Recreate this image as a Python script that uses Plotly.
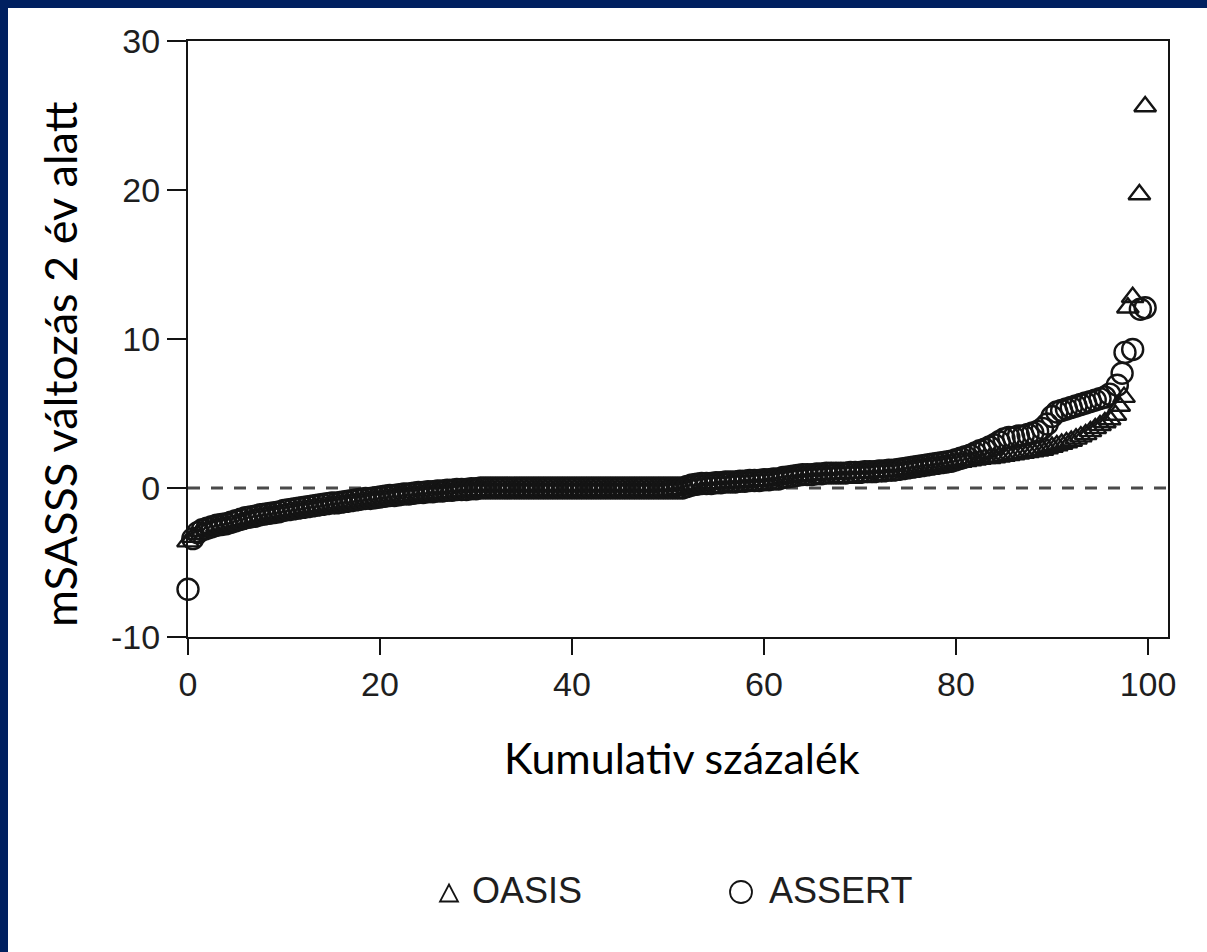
import plotly.graph_objects as go

# ---------------- data ----------------
pct_grid = [
    0.0, 0.5, 1.0, 1.5, 2.0, 2.5, 3.0, 3.5, 4.0, 4.5,
    5.0, 5.5, 6.0, 6.5, 7.0, 7.5, 8.0, 8.5, 9.0, 9.5,
    10.0, 10.5, 11.0, 11.5, 12.0, 12.5, 13.0, 13.5, 14.0, 14.5,
    15.0, 15.5, 16.0, 16.5, 17.0, 17.5, 18.0, 18.5, 19.0, 19.5,
    20.0, 20.5, 21.0, 21.5, 22.0, 22.5, 23.0, 23.5, 24.0, 24.5,
    25.0, 25.5, 26.0, 26.5, 27.0, 27.5, 28.0, 28.5, 29.0, 29.5,
    30.0, 30.5, 31.0, 31.5, 32.0, 32.5, 33.0, 33.5, 34.0, 34.5,
    35.0, 35.5, 36.0, 36.5, 37.0, 37.5, 38.0, 38.5, 39.0, 39.5,
    40.0, 40.5, 41.0, 41.5, 42.0, 42.5, 43.0, 43.5, 44.0, 44.5,
    45.0, 45.5, 46.0, 46.5, 47.0, 47.5, 48.0, 48.5, 49.0, 49.5,
    50.0, 50.5, 51.0, 51.5, 52.0, 52.5, 53.0, 53.5, 54.0, 54.5,
    55.0, 55.5, 56.0, 56.5, 57.0, 57.5, 58.0, 58.5, 59.0, 59.5,
    60.0, 60.5, 61.0, 61.5, 62.0, 62.5, 63.0, 63.5, 64.0, 64.5,
    65.0, 65.5, 66.0, 66.5, 67.0, 67.5, 68.0, 68.5, 69.0, 69.5,
    70.0, 70.5, 71.0, 71.5, 72.0, 72.5, 73.0, 73.5, 74.0, 74.5,
    75.0, 75.5, 76.0, 76.5, 77.0, 77.5, 78.0, 78.5, 79.0, 79.5,
    80.0, 80.5, 81.0, 81.5, 82.0, 82.5, 83.0, 83.5, 84.0, 84.5,
    85.0, 85.5, 86.0, 86.5, 87.0, 87.5, 88.0, 88.5, 89.0, 89.5,
    90.0, 90.5, 91.0, 91.5, 92.0, 92.5, 93.0, 93.5, 94.0, 94.5,
    95.0, 95.5, 96.0,
]

assert_main = [
    -6.8, -3.4, -3.0, -2.8, -2.7, -2.6, -2.5, -2.45, -2.4, -2.3,
    -2.2, -2.1, -2.0, -1.95, -1.9, -1.8, -1.75, -1.7, -1.65, -1.6,
    -1.5, -1.45, -1.4, -1.35, -1.3, -1.25, -1.2, -1.15, -1.1, -1.05,
    -1.0, -1.0, -0.95, -0.9, -0.85, -0.8, -0.75, -0.7, -0.7, -0.65,
    -0.6, -0.55, -0.5, -0.5, -0.45, -0.4, -0.4, -0.35, -0.3, -0.3,
    -0.25, -0.25, -0.2, -0.2, -0.15, -0.15, -0.1, -0.1, -0.1, -0.05,
    -0.05, 0.0, 0.0, 0.0, 0.0, 0.0, 0.0, 0.0, 0.0, 0.0,
    0.0, 0.0, 0.0, 0.0, 0.0, 0.0, 0.0, 0.0, 0.0, 0.0,
    0.0, 0.0, 0.0, 0.0, 0.0, 0.0, 0.0, 0.0, 0.0, 0.0,
    0.0, 0.0, 0.0, 0.0, 0.0, 0.0, 0.0, 0.0, 0.0, 0.0,
    0.0, 0.0, 0.0, 0.0, 0.1, 0.2, 0.25, 0.3, 0.3, 0.3,
    0.35, 0.35, 0.4, 0.4, 0.4, 0.45, 0.45, 0.5, 0.5, 0.5,
    0.55, 0.55, 0.6, 0.6, 0.7, 0.75, 0.8, 0.85, 0.9, 0.9,
    0.9, 0.95, 0.95, 1.0, 1.0, 1.0, 1.0, 1.0, 1.05, 1.05,
    1.05, 1.1, 1.1, 1.1, 1.15, 1.15, 1.2, 1.2, 1.25, 1.3,
    1.35, 1.4, 1.45, 1.5, 1.55, 1.6, 1.65, 1.7, 1.75, 1.8,
    1.9, 2.0, 2.1, 2.2, 2.35, 2.5, 2.6, 2.75, 2.9, 3.1,
    3.3, 3.4, 3.4, 3.5, 3.5, 3.6, 3.7, 3.8, 4.0, 4.3,
    4.8, 5.1, 5.2, 5.3, 5.4, 5.5, 5.6, 5.7, 5.8, 5.9,
    6.0, 6.1, 6.3,
]
assert_tail_pct = [96.8, 97.3, 97.6, 98.4, 99.2, 99.7]
assert_tail = [6.9, 7.7, 9.1, 9.3, 12.0, 12.1]

oasis_main = [
    -3.6, -3.3, -3.1, -2.9, -2.8, -2.7, -2.6, -2.55, -2.5, -2.45,
    -2.4, -2.3, -2.2, -2.1, -2.0, -1.95, -1.9, -1.85, -1.8, -1.75,
    -1.7, -1.65, -1.6, -1.55, -1.5, -1.45, -1.4, -1.35, -1.3, -1.25,
    -1.2, -1.15, -1.1, -1.05, -1.0, -1.0, -0.95, -0.9, -0.85, -0.8,
    -0.8, -0.75, -0.7, -0.65, -0.6, -0.6, -0.55, -0.5, -0.5, -0.45,
    -0.4, -0.4, -0.35, -0.35, -0.3, -0.3, -0.25, -0.25, -0.2, -0.2,
    -0.2, -0.2, -0.2, -0.2, -0.2, -0.2, -0.2, -0.2, -0.2, -0.2,
    -0.2, -0.2, -0.2, -0.2, -0.2, -0.2, -0.2, -0.2, -0.2, -0.2,
    -0.2, -0.2, -0.2, -0.2, -0.2, -0.2, -0.2, -0.2, -0.2, -0.2,
    -0.2, -0.2, -0.2, -0.2, -0.2, -0.2, -0.2, -0.2, -0.2, -0.2,
    -0.15, -0.15, -0.1, -0.1, 0.0, 0.1, 0.2, 0.2, 0.25, 0.3,
    0.3, 0.3, 0.35, 0.35, 0.4, 0.4, 0.4, 0.45, 0.45, 0.5,
    0.5, 0.5, 0.55, 0.6, 0.65, 0.7, 0.75, 0.8, 0.8, 0.85,
    0.85, 0.9, 0.9, 0.9, 0.95, 0.95, 0.95, 1.0, 1.0, 1.0,
    1.0, 1.0, 1.05, 1.05, 1.1, 1.1, 1.1, 1.15, 1.15, 1.2,
    1.25, 1.3, 1.35, 1.4, 1.45, 1.5, 1.5, 1.55, 1.6, 1.65,
    1.7, 1.75, 1.8, 1.85, 1.9, 1.95, 2.0, 2.0, 2.05, 2.1,
    2.15, 2.2, 2.25, 2.3, 2.35, 2.4, 2.45, 2.5, 2.55, 2.65,
    2.75, 2.85, 2.95, 3.05, 3.15, 3.3, 3.45, 3.6, 3.8, 4.0,
    4.2, 4.4, 4.6,
]
oasis_tail_pct = [96.6, 97.0, 97.5, 97.9, 98.4, 99.1, 99.7]
oasis_tail = [4.9, 5.5, 6.1, 12.1, 12.8, 19.7, 25.6]

x_ticks = [0, 20, 40, 60, 80, 100]
y_ticks = [-10, 0, 10, 20, 30]
y_ticktext = ["-10", "0", "10", "20", "30"]
series_names = ["OASIS", "ASSERT"]

x_title = "Kumulativ százalék"
y_title = "mSASSS változás 2 év alatt"

# ---------------- layout geometry ----------------
W, H = 1207, 952
PX_L, PX_R, PX_T, PX_B = 188, 1168, 41, 637
X_MAX = 102.08


def px_x(p):
    return (p - PX_L) / (PX_R - PX_L)


def px_y(p):
    return (PX_B - p) / (PX_B - PX_T)


INK = "#141414"
NAVY = "#002060"

fig = go.Figure()

fig.add_trace(go.Scatter(
    x=pct_grid + oasis_tail_pct, y=oasis_main + oasis_tail,
    mode="markers", name=series_names[0], cliponaxis=False,
    marker=dict(symbol="triangle-up-open", size=19, color=INK,
                line=dict(width=2.4, color=INK)),
))
fig.add_trace(go.Scatter(
    x=pct_grid + assert_tail_pct, y=assert_main + assert_tail,
    mode="markers", name=series_names[1], cliponaxis=False,
    marker=dict(symbol="circle-open", size=21, color=INK,
                line=dict(width=2.4, color=INK)),
))

tick_font = dict(family="Liberation Sans, Arial, sans-serif", size=34, color="#1e1e1e")

fig.update_xaxes(
    range=[0, X_MAX], tickvals=x_ticks, ticks="outside", ticklen=16, tickwidth=2,
    tickcolor=INK, showline=True, linewidth=2, linecolor=INK, mirror=True,
    showgrid=False, zeroline=False, tickfont=tick_font,
)
fig.update_yaxes(
    range=[-10, 30], tickvals=y_ticks, ticktext=y_ticktext, ticks="outside",
    ticklen=19, tickwidth=2, tickcolor=INK, showline=True, linewidth=2,
    linecolor=INK, mirror=True, showgrid=False, zeroline=False, tickfont=tick_font,
)

shapes = [
    # dashed reference line at zero
    dict(type="line", xref="x", yref="y", x0=0, x1=X_MAX, y0=0, y1=0,
         line=dict(color="#4a4a4a", width=3, dash="12px,11px"), layer="below"),
    # navy frame strips (slide background)
    dict(type="rect", xref="paper", yref="paper",
         x0=px_x(-5), x1=px_x(8), y0=px_y(H + 5), y1=px_y(-5),
         fillcolor=NAVY, line=dict(width=0), layer="above"),
    dict(type="rect", xref="paper", yref="paper",
         x0=px_x(-5), x1=px_x(W + 5), y0=px_y(8), y1=px_y(-5),
         fillcolor=NAVY, line=dict(width=0), layer="above"),
]

# manual legend symbols
tcx, tcy = 449, 893
shapes.append(dict(
    type="path", xref="paper", yref="paper",
    path="M {:.5f},{:.5f} L {:.5f},{:.5f} L {:.5f},{:.5f} Z".format(
        px_x(tcx - 9), px_y(tcy + 8.5), px_x(tcx + 9), px_y(tcy + 8.5),
        px_x(tcx), px_y(tcy - 8.5)),
    line=dict(color=INK, width=1.8), fillcolor="rgba(0,0,0,0)"))
ccx, ccy, cr = 741, 892, 11
shapes.append(dict(
    type="circle", xref="paper", yref="paper",
    x0=px_x(ccx - cr), x1=px_x(ccx + cr), y0=px_y(ccy + cr), y1=px_y(ccy - cr),
    line=dict(color=INK, width=1.8), fillcolor="rgba(0,0,0,0)"))

legend_font = dict(family="Liberation Sans, Arial, sans-serif", size=36, color="#1e1e1e")
x_title_font = dict(family="Lato, Calibri, sans-serif", size=43, color="#000000")
y_title_font = dict(family="Lato, Calibri, sans-serif", size=45, color="#000000")

annotations = [
    dict(text=series_names[0], xref="paper", yref="paper", x=px_x(470), y=px_y(890),
         xanchor="left", yanchor="middle", showarrow=False, font=legend_font),
    dict(text=series_names[1], xref="paper", yref="paper", x=px_x(767), y=px_y(890),
         xanchor="left", yanchor="middle", showarrow=False, font=legend_font),
    dict(text=x_title, xref="paper", yref="paper", x=px_x(682), y=px_y(757),
         xanchor="center", yanchor="middle", showarrow=False, font=x_title_font),
    dict(text=y_title, xref="paper", yref="paper", x=px_x(60), y=px_y(364),
         xanchor="center", yanchor="middle", showarrow=False, textangle=-90,
         font=y_title_font),
]

fig.update_layout(
    width=W, height=H, autosize=False,
    margin=dict(l=PX_L, r=W - PX_R, t=PX_T, b=H - PX_B, pad=0),
    paper_bgcolor="white", plot_bgcolor="white",
    showlegend=False, shapes=shapes, annotations=annotations,
)

fig.write_html(
    "out.html",
    config={"displayModeBar": False},
    post_script="document.body.style.margin='0px';document.body.style.overflow='hidden';",
)
